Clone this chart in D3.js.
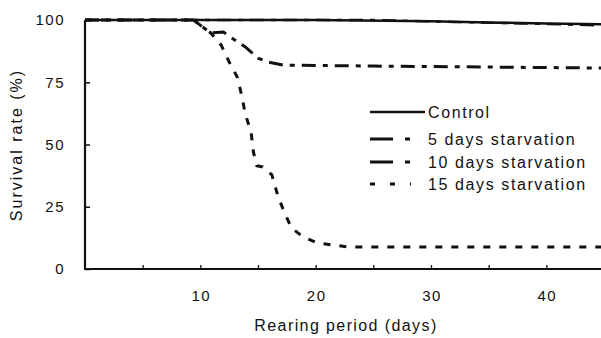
<!DOCTYPE html>
<html><head><meta charset="utf-8">
<script src="https://cdn.jsdelivr.net/npm/d3@7"></script>
<style>body{margin:0;background:#fff}svg{display:block}text{font-family:"Liberation Sans",Arial,sans-serif;fill:#111}</style>
</head><body><svg id="c" width="601" height="338"></svg>
<script>
// Data
const xTicks = [5, 10, 15, 20, 25, 30, 35, 40, 45];
const xTickLabels = [10, 20, 30, 40];
const yTicks = [0, 25, 50, 75, 100];

const controlDays = [0, 20, 30, 35, 40, 45];
const controlSurv = [100, 100, 99.5, 99, 98.6, 98.3];
const days5 = [0, 25, 32, 38, 45];
const surv5 = [100, 100, 99.2, 98.6, 97.8];
const days10 = [0, 9.4, 10.9, 12.0, 12.6, 13.9, 15.0, 15.9, 17.2, 25, 45];
const surv10 = [100, 100, 94.8, 95.2, 93.2, 89.2, 84.7, 83.1, 81.9, 81.5, 80.7];
const days15 = [0, 9.4, 10.9, 11.8, 12.5, 13.2, 13.6, 13.9, 14.4, 14.6, 14.9, 15.4, 16.2, 16.7, 17.2, 17.9, 18.9, 20.2, 21.6, 22.8, 45];
const surv15 = [100, 100, 94.8, 90, 83.1, 77.1, 69.5, 62.2, 55, 47, 41.5, 41, 37.8, 29.7, 23.7, 16.5, 12.9, 10.4, 9.6, 8.8, 8.8];

const seriesNames = ["Control", "5 days starvation", "10 days starvation", "15 days starvation"];

const svg = d3.select("#c");
const x = d3.scaleLinear().domain([0, 45]).range([85, 604]);
const y = d3.scaleLinear().domain([0, 100]).range([269, 20]);

const styles = [
  {w: 2.6, dash: null},
  {w: 2.4, dash: "14,7,5,7"},
  {w: 3, dash: "14,7,5,7"},
  {w: 3, dash: "7,9"}
];
const legendDash = [null, "23,12,5,40", "23,12,5,40", "5,15,5,15,5,40"];

const series = [
  d3.zip(controlDays, controlSurv),
  d3.zip(days5, surv5),
  d3.zip(days10, surv10),
  d3.zip(days15, surv15)
];

const line = d3.line().x(d => x(d[0])).y(d => y(d[1]));

// axes
const yAxis = d3.axisRight(y).tickValues(yTicks).tickSize(5).tickFormat("");
const gy = svg.append("g").attr("transform", "translate(85,0)").call(yAxis);
gy.select(".domain").remove();
gy.selectAll("line").attr("stroke", "#111").attr("stroke-width", 1.5);
svg.append("line").attr("x1", 85).attr("x2", 85).attr("y1", y(100)).attr("y2", y(0)).attr("stroke", "#111").attr("stroke-width", 2.2);

const xAxis = d3.axisTop(x).tickValues(xTicks).tickSize(4).tickFormat("");
const gx = svg.append("g").attr("transform", "translate(0,269)").call(xAxis);
gx.select(".domain").remove();
gx.selectAll("line").attr("stroke", "#111").attr("stroke-width", 1.3);
svg.append("line").attr("x1", 84).attr("x2", 604).attr("y1", 269).attr("y2", 269).attr("stroke", "#111").attr("stroke-width", 2.2);

// tick labels
svg.selectAll(".yl").data(yTicks).enter().append("text")
  .attr("x", 65).attr("y", d => y(d)).attr("dy", "0.36em").attr("text-anchor", "end")
  .style("font-size", "15px").style("letter-spacing", "1.5px").text(d => d);
svg.selectAll(".xl").data(xTickLabels).enter().append("text")
  .attr("x", d => x(d) + 1).attr("y", 296).attr("dy", "0.36em").attr("text-anchor", "middle")
  .style("font-size", "15px").style("letter-spacing", "1.5px").text(d => d);

// axis titles
svg.append("text").attr("x", 346).attr("y", 325).attr("dy", "0.36em").attr("text-anchor", "middle")
  .style("font-size", "16px").style("letter-spacing", "1.4px").text("Rearing period (days)");
svg.append("text").attr("transform", "translate(16,145) rotate(-90)").attr("dy", "0.36em").attr("text-anchor", "middle")
  .style("font-size", "16px").style("letter-spacing", "2px").text("Survival rate (%)");

// lines
series.forEach((s, i) => {
  svg.append("path").datum(s).attr("d", line).attr("fill", "none").attr("stroke", "#111")
    .attr("stroke-width", styles[i].w).attr("stroke-dasharray", styles[i].dash);
});

// legend
const ly = [112, 139, 162, 184];
seriesNames.forEach((n, i) => {
  svg.append("line").attr("x1", 370).attr("x2", i === 0 ? 425 : 411).attr("y1", ly[i]).attr("y2", ly[i])
    .attr("stroke", "#111").attr("stroke-width", i === 0 ? 2.6 : 3).attr("stroke-dasharray", legendDash[i]);
  svg.append("text").attr("x", 428).attr("y", ly[i]).attr("dy", "0.36em")
    .style("font-size", "16px").style("letter-spacing", "1.6px").text(n);
});
</script></body></html>
